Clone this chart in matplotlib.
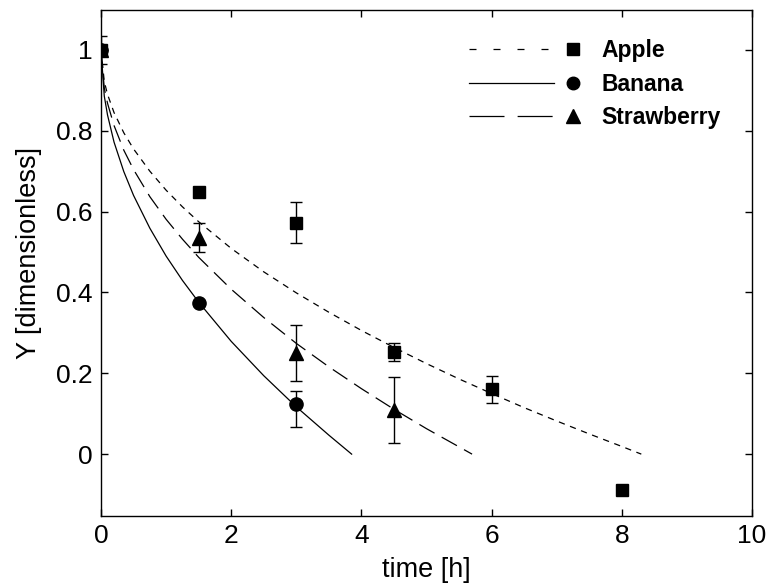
import matplotlib
matplotlib.use('Agg')
import matplotlib.pyplot as plt
from matplotlib import rcParams
from matplotlib.lines import Line2D
from matplotlib.legend_handler import HandlerBase

# measured points (time in h, Y dimensionless)
apple_t = [0, 1.5, 3, 4.5, 6, 8]
apple_y = [1.0, 0.649, 0.573, 0.252, 0.160, -0.089]
apple_err = [0.035, 0.0, 0.050, 0.022, 0.033, 0.0]

banana_t = [0, 1.5, 3]
banana_y = [1.0, 0.373, 0.123]
banana_err_lo = [0.0, 0.0, 0.056]
banana_err_hi = [0.0, 0.0, 0.032]

straw_t = [0, 1.5, 3, 4.5]
straw_y = [1.0, 0.535, 0.250, 0.109]
straw_err = [0.0, 0.036, 0.070, 0.082]

# model curves
apple_fit_t = [0, 0.05, 0.1, 0.2, 0.35, 0.5, 0.75, 1, 1.25, 1.5, 2, 2.5, 3, 3.5,
               4, 4.5, 5, 5.5, 6, 6.5, 7, 7.5, 8, 8.3]
apple_fit_y = [1.0, 0.922, 0.890, 0.845, 0.795, 0.755, 0.700, 0.653, 0.612, 0.575,
               0.509, 0.451, 0.399, 0.351, 0.306, 0.264, 0.224, 0.186, 0.150,
               0.115, 0.082, 0.050, 0.019, 0.0]

banana_fit_t = [0, 0.05, 0.1, 0.2, 0.35, 0.5, 0.75, 1, 1.25, 1.5, 2, 2.5, 3, 3.5, 3.85]
banana_fit_y = [1.0, 0.886, 0.839, 0.772, 0.699, 0.640, 0.559, 0.490, 0.430, 0.376,
                0.279, 0.194, 0.117, 0.047, 0.0]

straw_fit_t = [0, 0.05, 0.1, 0.2, 0.35, 0.5, 0.75, 1, 1.25, 1.5, 2, 2.5, 3, 3.5,
               4, 4.5, 5, 5.5, 5.7]
straw_fit_y = [1.0, 0.906, 0.868, 0.813, 0.752, 0.704, 0.637, 0.581, 0.532, 0.487,
               0.408, 0.338, 0.274, 0.216, 0.162, 0.111, 0.063, 0.018, 0.0]

labels = ['Apple', 'Banana', 'Strawberry']

rcParams['font.family'] = ['Liberation Sans', 'DejaVu Sans']

apple_ls = (0, (5, 4.5))
banana_ls = '-'
straw_ls = (0, (14, 6.5))
# the legend draws the same styles with a coarser pattern
apple_leg_ls = (0, (5.6, 13.6))
straw_leg_ls = (0, (28, 10.5))


class LineThenMarker(HandlerBase):
    # line on the left, marker after it (like the original legend)
    def create_artists(self, legend, orig_handle, xdescent, ydescent,
                       width, height, fontsize, trans):
        lh, mh = orig_handle
        y = height / 2.0 - ydescent
        x0 = -xdescent
        ln = Line2D([x0, x0 + 0.76 * width], [y, y])
        ln.update_from(lh)
        ln.set_transform(trans)
        mk = Line2D([x0 + 0.93 * width], [y])
        mk.update_from(mh)
        mk.set_transform(trans)
        return [ln, mk]


def err_points(t, y, lo, hi):
    keep = [i for i in range(len(t)) if lo[i] > 0 or hi[i] > 0]
    return ([t[i] for i in keep], [y[i] for i in keep],
            [[lo[i] for i in keep], [hi[i] for i in keep]])


fig = plt.figure(figsize=(7.67, 5.87), dpi=100)
ax = fig.add_axes([0.1317, 0.121, 0.8487, 0.8628])

ax.plot(apple_fit_t, apple_fit_y, color='k', lw=0.9, linestyle=apple_ls)
ax.plot(banana_fit_t, banana_fit_y, color='k', lw=0.9, linestyle=banana_ls)
ax.plot(straw_fit_t, straw_fit_y, color='k', lw=0.9, linestyle=straw_ls)

ekw = dict(fmt='none', ecolor='k', elinewidth=1.0, capsize=4, capthick=1.0, zorder=3)
for t, y, lo, hi in [(apple_t, apple_y, apple_err, apple_err),
                     (banana_t, banana_y, banana_err_lo, banana_err_hi),
                     (straw_t, straw_y, straw_err, straw_err)]:
    et, ey, ee = err_points(t, y, lo, hi)
    ax.errorbar(et, ey, yerr=ee, **ekw)

ax.plot(apple_t, apple_y, 's', color='k', ms=8.5, zorder=4)
ax.plot(banana_t, banana_y, 'o', color='k', ms=9.5, zorder=4)
ax.plot(straw_t, straw_y, '^', color='k', ms=10, zorder=4)

ax.set_xlim(0, 10)
ax.set_ylim(-0.153, 1.1)
ax.set_xticks([0, 2, 4, 6, 8, 10])
ax.set_xticklabels(['0', '2', '4', '6', '8', '10'])
ax.set_yticks([0, 0.2, 0.4, 0.6, 0.8, 1.0])
ax.set_yticklabels(['0', '0.2', '0.4', '0.6', '0.8', '1'])
ax.tick_params(direction='in', length=5, width=1.0, top=True, right=True,
               labelsize=19, pad=6)
for s in ax.spines.values():
    s.set_linewidth(1.0)

ax.set_xlabel('time [h]', fontsize=19.5, labelpad=6)
ax.set_ylabel('Y [dimensionless]', fontsize=19.5)
ax.yaxis.set_label_coords(-0.0906, 0.519)

handles = [
    (Line2D([], [], color='k', lw=0.9, linestyle=apple_leg_ls),
     Line2D([], [], color='k', marker='s', ms=8, linestyle='none')),
    (Line2D([], [], color='k', lw=0.9, linestyle=banana_ls),
     Line2D([], [], color='k', marker='o', ms=9, linestyle='none')),
    (Line2D([], [], color='k', lw=0.9, linestyle=straw_leg_ls),
     Line2D([], [], color='k', marker='^', ms=9.5, linestyle='none')),
]
ax.legend(handles, labels, handler_map={tuple: LineThenMarker()},
          loc='upper left', bbox_to_anchor=(0.565, 0.941), frameon=False,
          borderpad=0, borderaxespad=0, handlelength=4.9, handletextpad=0.9,
          labelspacing=0.45, prop={'weight': 'bold', 'size': 16.5})

fig.savefig('out.png', dpi=100)
